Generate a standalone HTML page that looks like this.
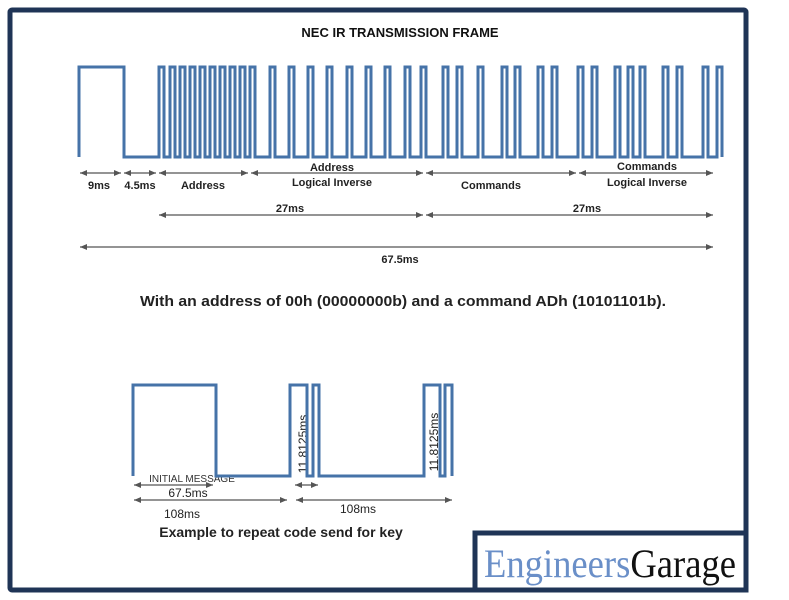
<!DOCTYPE html>
<html><head><meta charset="utf-8"><style>
body{margin:0;background:#fff;}
svg{display:block;font-family:"Liberation Sans",sans-serif;}
</style></head><body>
<svg width="789" height="600" viewBox="0 0 789 600" xmlns="http://www.w3.org/2000/svg">
<defs>
<marker id="a" markerWidth="8" markerHeight="8" refX="7" refY="4" orient="auto-start-reverse" markerUnits="userSpaceOnUse"><path d="M0,1 L7,4 L0,7 Z" fill="#555"/></marker>
</defs>
<rect x="10" y="10" width="736" height="580" fill="none" stroke="#1f3456" stroke-width="5" rx="2"/>
<text x="400" y="37" font-size="13" font-weight="bold" text-anchor="middle" fill="#111">NEC IR TRANSMISSION FRAME</text>
<path fill="none" stroke="#4673a8" stroke-width="3" d="M79,157 V67 H124 V157
H159 V67 H164 V157 H170 V67 H175 V157 H180 V67 H185 V157 H190 V67 H195 V157
H200 V67 H205 V157 H210 V67 H215 V157 H220 V67 H225 V157 H230 V67 H235 V157
H240 V67 H245 V157 H250 V67 H255 V157 H270 V67 H275 V157 H289 V67 H294 V157
H308 V67 H313 V157 H327 V67 H332 V157 H347 V67 H352 V157 H366 V67 H371 V157
H385 V67 H390 V157 H405 V67 H410 V157 H421 V67 H426 V157 H443 V67 H448 V157
H457 V67 H462 V157 H478 V67 H483 V157 H502 V67 H507 V157 H515 V67 H520 V157
H538 V67 H543 V157 H552 V67 H557 V157 H578 V67 H583 V157 H592 V67 H597 V157
H615 V67 H620 V157 H628 V67 H633 V157 H640 V67 H645 V157 H663 V67 H668 V157
H677 V67 H682 V157 H703 V67 H708 V157 H717 V67 H722 V157"/>
<g stroke="#555" stroke-width="1.3" marker-start="url(#a)" marker-end="url(#a)">
<line x1="80" y1="173" x2="121" y2="173"/>
<line x1="124" y1="173" x2="156" y2="173"/>
<line x1="159" y1="173" x2="248" y2="173"/>
<line x1="251" y1="173" x2="423" y2="173"/>
<line x1="426" y1="173" x2="576" y2="173"/>
<line x1="579" y1="173" x2="713" y2="173"/>
<line x1="159" y1="215" x2="423" y2="215"/>
<line x1="426" y1="215" x2="713" y2="215"/>
<line x1="80" y1="247" x2="713" y2="247"/>
<line x1="134" y1="485" x2="213" y2="485"/>
<line x1="134" y1="500" x2="287" y2="500"/>
<line x1="295" y1="485" x2="318" y2="485"/>
<line x1="296" y1="500" x2="452" y2="500"/>
</g>
<g font-size="11" font-weight="bold" fill="#222" text-anchor="middle">
<text x="99" y="189">9ms</text>
<text x="140" y="189">4.5ms</text>
<text x="203" y="189">Address</text>
<text x="332" y="171">Address</text>
<text x="332" y="186">Logical Inverse</text>
<text x="491" y="189">Commands</text>
<text x="647" y="170">Commands</text>
<text x="647" y="186">Logical Inverse</text>
<text x="290" y="212">27ms</text>
<text x="587" y="212">27ms</text>
<text x="400" y="263">67.5ms</text>
<text x="140" y="306" font-size="15" text-anchor="start" textLength="526" lengthAdjust="spacingAndGlyphs">With an address of 00h (00000000b) and a command  ADh (10101101b).</text>
<text x="192" y="482" font-size="10" font-weight="normal" fill="#333">INITIAL MESSAGE</text>
<text x="188" y="497" font-size="12" font-weight="normal">67.5ms</text>
<text x="182" y="518" font-size="12" font-weight="normal">108ms</text>
<text x="358" y="513" font-size="12" font-weight="normal">108ms</text>
<text x="281" y="537" font-size="14">Example to repeat code send for key</text>
<text transform="translate(307,444) rotate(-90)" font-size="12" font-weight="normal">11.8125ms</text>
<text transform="translate(438,442) rotate(-90)" font-size="12" font-weight="normal">11.8125ms</text>
</g>
<path d="M133,476 V385 H216 V476 H290 V385 H307 V476 H313 V385 H319 V476 H424 V385 H440 V476 H445 V385 H452 V476" fill="none" stroke="#4673a8" stroke-width="3"/>
<rect x="475" y="533" width="271" height="57" fill="#fff" stroke="#1f3456" stroke-width="5"/>
<text x="484" y="577" font-family="'Liberation Serif',serif" font-size="40" textLength="252" lengthAdjust="spacingAndGlyphs" fill="#6a8fc8">Engineers<tspan fill="#111">Garage</tspan></text>
</svg>
</body></html>
